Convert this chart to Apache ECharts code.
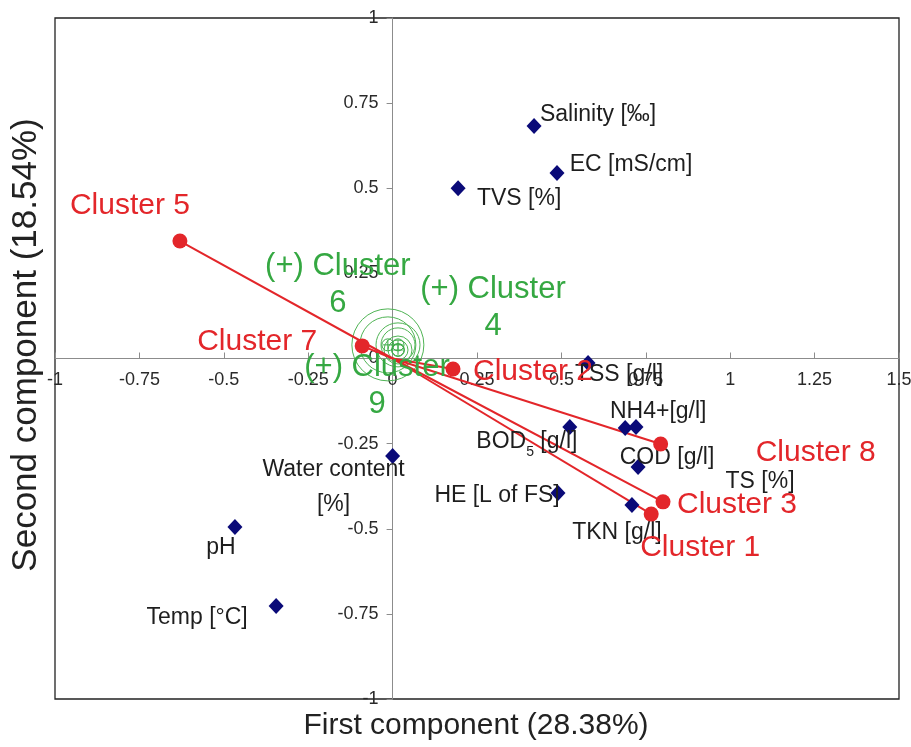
<!DOCTYPE html>
<html>
<head>
<meta charset="utf-8">
<script src="https://cdn.jsdelivr.net/npm/echarts@6.0.0/dist/echarts.min.js"></script>
<style>html,body{margin:0;padding:0;background:#fff}#c{width:911px;height:747px}</style>
</head>
<body>
<div id="c"></div>
<script>
// ---- data ----
const varNames = ['Salinity [‰]', 'EC [mS/cm]', 'TVS [%]', 'TSS [g/l]', 'NH4+[g/l]', 'TS [%]', 'BOD5 [g/l]', 'COD [g/l]', 'HE [L of FS]', 'TKN [g/l]', 'Water content [%]', 'pH', 'Temp [°C]'];
const varX = [0.419, 0.487, 0.194, 0.579, 0.689, 0.721, 0.525, 0.727, 0.490, 0.709, 0.000, -0.467, -0.345];
const varY = [0.683, 0.545, 0.500, -0.013, -0.204, -0.201, -0.201, -0.319, -0.395, -0.430, -0.286, -0.495, -0.727];

const clusterNames = ['Cluster 5', 'Cluster 7', 'Cluster 2', 'Cluster 8', 'Cluster 3', 'Cluster 1'];
const clusterX = [-0.630, -0.090, 0.179, 0.794, 0.801, 0.766];
const clusterY = [0.345, 0.037, -0.031, -0.251, -0.421, -0.457];

const suppNames = ['(+) Cluster 6', '(+) Cluster 4', '(+) Cluster 9'];
const suppX = [-0.014, 0.016, 0.016];
const suppY = [0.040, 0.040, 0.025];

const xTicks = {min: -1, max: 1.5, step: 0.25};
const yTicks = {min: -1, max: 1, step: 0.25};

// ---- styles ----
const FONT = 'Liberation Sans, Arial, sans-serif';
const RED = '#e3262a';
const NAVY = '#0a0a78';
const GREEN = '#35a842';
const RING = '#4fb454';
const GRID = {left: 55, right: 12, top: 18, bottom: 48, width: 911, height: 747};

const varLabelOffset = {
  'Salinity [‰]': [64, -11], 'EC [mS/cm]': [74, -8], 'TVS [%]': [61, 10], 'TSS [g/l]': [31, 12],
  'NH4+[g/l]': [33, -16], 'TS [%]': [124, 55], 'BOD5 [g/l]': [-43, 15], 'COD [g/l]': [29, -9],
  'HE [L of FS]': [-61, 3], 'TKN [g/l]': [-15, 28], 'Water content [%]': [-59, 31], 'pH': [-14, 21],
  'Temp [°C]': [-79, 12]
};
const clusterLabelOffset = {
  'Cluster 5': [-50, -35], 'Cluster 7': [-105, -4], 'Cluster 2': [80, 3],
  'Cluster 8': [155, 9], 'Cluster 3': [74, 3], 'Cluster 1': [49, 34]
};
const suppLabelOffset = {'(+) Cluster 6': [-50, -60], '(+) Cluster 4': [95, -37], '(+) Cluster 9': [-21, 36]};
const suppRings = {'(+) Cluster 6': [72, 56], '(+) Cluster 4': [44, 34], '(+) Cluster 9': [28, 20, 13]};

function varDisplay(n) {
  if (n === 'BOD5 [g/l]') return 'BOD{s|5} [g/l]';
  if (n === 'Water content [%]') return 'Water content\n[%]';
  return n;
}

const series = [];

// lines from origin to each cluster
clusterNames.forEach((n, i) => {
  series.push({
    type: 'line', data: [[0, 0], [clusterX[i], clusterY[i]]], showSymbol: false, symbol: 'none',
    lineStyle: {color: RED, width: 2, opacity: 1}, z: 3, silent: true
  });
});

// green rings for supplementary clusters
suppNames.forEach((n, i) => {
  suppRings[n].forEach(sz => {
    series.push({
      type: 'scatter', data: [[suppX[i], suppY[i]]], symbol: 'circle', symbolSize: sz,
      itemStyle: {color: 'rgba(0,0,0,0)', borderColor: RING, borderWidth: 1, opacity: 1}, z: 2, silent: true
    });
  });
});

// supplementary points with plus marks and labels
series.push({
  type: 'scatter', z: 4,
  symbol: 'path://M0,10 A10,10 0 1,1 20,10 A10,10 0 1,1 0,10 Z M10,2 L10,18 M2,10 L18,10',
  symbolSize: 12,
  itemStyle: {color: 'rgba(0,0,0,0)', borderColor: GREEN, borderWidth: 1, opacity: 1},
  data: suppNames.map((n, i) => ({
    name: n, value: [suppX[i], suppY[i]],
    label: {offset: suppLabelOffset[n]}
  })),
  label: {
    show: true, position: 'inside', align: 'center', verticalAlign: 'middle',
    formatter: p => p.name.replace(/ (\d+)$/, '\n$1'),
    color: GREEN, fontSize: 31, fontFamily: FONT, lineHeight: 37, textBorderWidth: 0, opacity: 1
  }
});

// variables (blue diamonds)
series.push({
  type: 'scatter', z: 5, symbol: 'diamond', symbolSize: [15, 16],
  itemStyle: {color: NAVY, opacity: 1},
  data: varNames.map((n, i) => ({name: n, value: [varX[i], varY[i]], label: {offset: varLabelOffset[n]}})),
  label: {
    show: true, position: 'inside', align: 'center', verticalAlign: 'middle',
    formatter: p => varDisplay(p.name),
    color: '#1e1e1e', fontSize: 23, fontFamily: FONT, lineHeight: 35, textBorderWidth: 0, opacity: 1,
    rich: {s: {fontSize: 14, fontFamily: FONT, color: '#1e1e1e', verticalAlign: 'bottom', padding: [10, 0, 0, 0]}}
  }
});

// clusters (red dots)
series.push({
  type: 'scatter', z: 6, symbol: 'circle', symbolSize: 15,
  itemStyle: {color: RED, opacity: 1},
  data: clusterNames.map((n, i) => ({name: n, value: [clusterX[i], clusterY[i]], label: {offset: clusterLabelOffset[n]}})),
  label: {
    show: true, position: 'inside', align: 'center', verticalAlign: 'middle',
    formatter: p => p.name, color: RED, fontSize: 30, fontFamily: FONT, textBorderWidth: 0, opacity: 1
  }
});

// place axes through the origin (shift from grid edges)
const plotW = GRID.width - GRID.left - GRID.right;
const plotH = GRID.height - GRID.top - GRID.bottom;
const xAxisShift = -plotH * (0 - yTicks.min) / (yTicks.max - yTicks.min);
const yAxisShift = -plotW * (0 - xTicks.min) / (xTicks.max - xTicks.min);

const axisCommon = {
  type: 'value',
  axisLine: {onZero: false, lineStyle: {color: '#8c8c8c', width: 1}},
  splitLine: {show: false},
  axisLabel: {color: '#2a2a2a', fontSize: 18, fontFamily: FONT, showMinLabel: true, showMaxLabel: true}
};

const option = {
  animation: false,
  backgroundColor: '#fff',
  grid: {left: GRID.left, right: GRID.right, top: GRID.top, bottom: GRID.bottom, show: true, borderColor: '#222', borderWidth: 1.3,
         backgroundColor: 'rgba(0,0,0,0)', containLabel: false, outerBoundsMode: 'none'},
  xAxis: Object.assign({}, axisCommon, {
    min: xTicks.min, max: xTicks.max, interval: xTicks.step, offset: xAxisShift,
    axisTick: {show: true, inside: true, length: 6, lineStyle: {color: '#8c8c8c'}},
    axisLabel: Object.assign({}, axisCommon.axisLabel, {margin: 13})
  }),
  yAxis: Object.assign({}, axisCommon, {
    min: yTicks.min, max: yTicks.max, interval: yTicks.step, offset: yAxisShift,
    axisTick: {show: true, inside: false, length: 6, lineStyle: {color: '#8c8c8c'}},
    axisLabel: Object.assign({}, axisCommon.axisLabel, {margin: 14})
  }),
  graphic: [
    {type: 'text', x: 476, y: 726, z: 10,
     style: {text: 'First component (28.38%)', fontSize: 30, fontFamily: FONT, fill: '#222', align: 'center', verticalAlign: 'middle'}},
    {type: 'text', x: 26, y: 345, rotation: Math.PI / 2, z: 10,
     style: {text: 'Second component (18.54%)', fontSize: 35, fontFamily: FONT, fill: '#222', align: 'center', verticalAlign: 'middle'}}
  ],
  series: series
};

const chart = echarts.init(document.getElementById('c'), null, {renderer: 'canvas'});
chart.setOption(option);
</script>
</body>
</html>
